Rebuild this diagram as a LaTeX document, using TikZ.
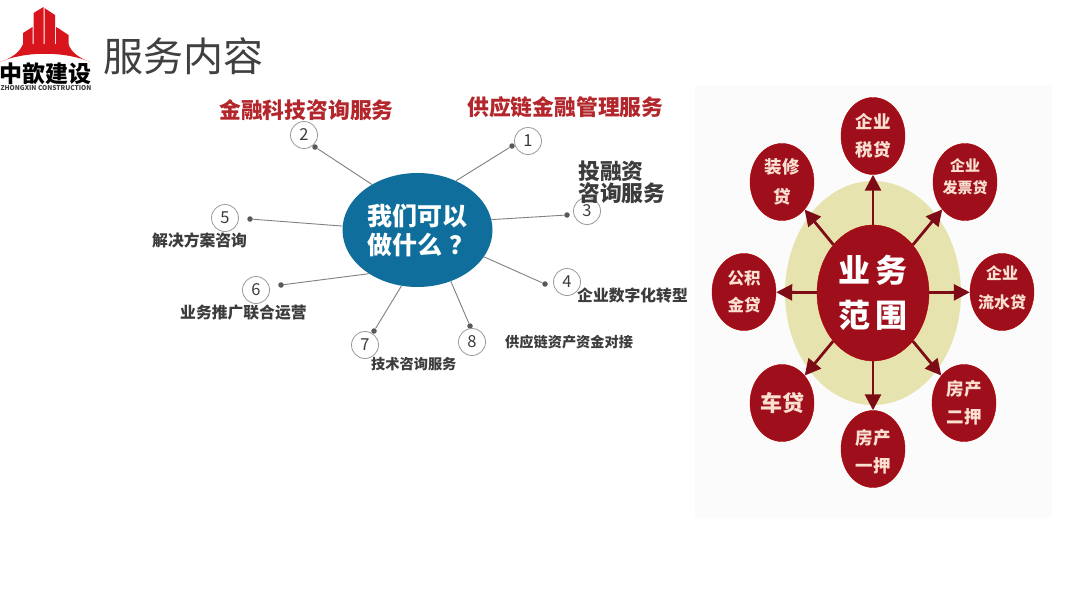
\documentclass[tikz,border=0pt]{standalone}
\usepackage{xcolor}
\usepackage{fontspec}
\setmainfont{Noto Sans CJK SC}
\usetikzlibrary{arrows.meta,shapes.geometric}
\definecolor{logored}{HTML}{D8141C}
\definecolor{loanred}{HTML}{9E0F1B}
\definecolor{titlered}{HTML}{B3262B}
\definecolor{hubblue}{HTML}{0F6E9C}
\definecolor{paleolive}{HTML}{E6E3AE}
\definecolor{loantext}{HTML}{FBE0D2}
\definecolor{graytext}{HTML}{3C3C3C}
\newcommand{\fsz}[1]{\fontsize{#1}{#1}\selectfont}

\begin{document}
\begin{tikzpicture}[
  x=1pt, y=-1pt,
  >={Triangle[length=16pt, width=16pt]},
  redtitle/.style={anchor=west, inner sep=0pt, font=\bfseries\fsz{21.8}, text=titlered},
  itemlabel/.style={anchor=west, inner sep=0pt, font=\bfseries\fsz{15.8}, text=graytext},
  numcircle/.style={circle, draw=black!40, fill=white, line width=0.8pt, minimum size=27pt, inner sep=0pt, font=\fsz{16.5}, text=graytext},
  enddot/.style={circle, fill=black!65, minimum size=5.5pt, inner sep=0pt},
  leader/.style={draw=black!50, line width=0.9pt},
  loan/.style={ellipse, draw=red!70!black, fill=loanred, minimum width=64pt, minimum height=77pt, inner sep=0pt, align=center, text=loantext, font=\bfseries\fsz{17.5}},
  loanlab/.style={align=center, inner sep=0pt, text=loantext, font=\bfseries\fsz{16}},
  flow/.style={->, draw=loanred!80!black, line width=2.8pt}
]
  \useasboundingbox (0,0) rectangle (1080,608);
  \fill[white] (0,0) rectangle (1080,608);

  % logo
  \fill[logored] (23,47) -- (23,33) -- (32.5,27) -- (32.5,47) -- cycle;
  \fill[logored] (33.5,47) -- (33.5,13) -- (43.5,7) -- (43.5,47) -- cycle;
  \fill[logored] (44.5,47) -- (44.5,8) -- (55,15) -- (55,47) -- cycle;
  \fill[logored] (56,47) -- (56,27) -- (58,28) -- (68.5,35) -- (68.5,47) -- cycle;
  \fill[logored] (0,62) .. controls (12,58) and (20,52) .. (23,44) -- (68.5,44) .. controls (71,52) and (79,58) .. (90,62) .. controls (65,51) and (25,51) .. (0,62) -- cycle;
  \node[inner sep=0pt, font=\bfseries\fsz{23}] (logotext) at (45.5,74) {中歆建设};
  \node[inner sep=0pt, font=\bfseries\fsz{6.6}, text=graytext] (logosub) at (46,88.5) {ZHONGXIN CONSTRUCTION};
  \node[anchor=west, inner sep=0pt, font=\fsz{40}, text=black!75] (pagetitle) at (103,56) {服务内容};

  % left
  \node[ellipse, fill=hubblue, minimum width=150pt, minimum height=114pt, inner sep=0pt, align=center, text=white, font=\bfseries\fsz{25}] (hub) at (417.5,230) {我们可以\\[4pt]\makebox[100pt][l]{做什么\hspace{7pt}？}};

  \node[enddot] (dotone) at (512,146) {};
  \node[enddot] (dottwo) at (315,147) {};
  \node[enddot] (dotthree) at (567,215) {};
  \node[enddot] (dotfour) at (545,284) {};
  \node[enddot] (dotfive) at (250,219) {};
  \node[enddot] (dotsix) at (281,285) {};
  \node[enddot] (dotseven) at (374,331) {};
  \node[enddot] (doteight) at (470,326) {};

  \draw[leader] (hub.52) -- (dotone);
  \draw[leader] (hub.135) -- (dottwo);
  \draw[leader] (hub.8) -- (dotthree);
  \draw[leader] (hub.-22) -- (dotfour);
  \draw[leader] (hub.177) -- (dotfive);
  \draw[leader] (hub.222) -- (dotsix);
  \draw[leader] (hub.254) -- (dotseven);
  \draw[leader] (hub.-57) -- (doteight);

  \node[numcircle] (numone) at (528,141) {1};
  \node[numcircle] (numtwo) at (304,135) {2};
  \node[numcircle] (numthree) at (587,211) {3};
  \node[numcircle] (numfour) at (567,282) {4};
  \node[numcircle] (numfive) at (225,218) {5};
  \node[numcircle] (numsix) at (256,290) {6};
  \node[numcircle] (numseven) at (365,345) {7};
  \node[numcircle] (numeight) at (472,342) {8};

  \node[redtitle] (titletwo) at (219,110.5) {金融科技咨询服务};
  \node[redtitle] (titleone) at (467,107) {供应链金融管理服务};
  \node[anchor=north west, inner sep=0pt, align=left, font=\bfseries\fsz{21.8}, text=graytext] (labthree) at (578,161) {投融资\\[0pt]咨询服务};
  \node[itemlabel] (labfour) at (577,295) {企业数字化转型};
  \node[itemlabel] (labfive) at (152,240) {解决方案咨询};
  \node[itemlabel] (labsix) at (180,313) {业务推广联合运营};
  \node[itemlabel, font=\bfseries\fsz{14.2}] (labseven) at (371,364) {技术咨询服务};
  \node[itemlabel, font=\bfseries\fsz{14.2}] (labeight) at (505,342) {供应链资产资金对接};

  % right
  \fill[black!1.5] (695,85) rectangle (1052,518);
  \node[ellipse, fill=paleolive, minimum width=176pt, minimum height=224pt, inner sep=0pt] (halo) at (873,293) {};
  \node[ellipse, draw=red!70!black, fill=loanred, minimum width=112pt, minimum height=136pt, inner sep=0pt, align=center, text=white, font=\bfseries\fsz{32}] (scope) at (873,293) {业\hspace{6pt}务\\[13pt]范\hspace{6pt}围};

  \node[loan] (taxloan) at (873,136) {企业\\[10pt]税贷};
  \node[loan, label={[loanlab, yshift=5pt, font=\bfseries\fsz{15}]center:企业\\[7pt]发票贷}] (invoiceloan) at (965,182) {};
  \node[loan, label={[loanlab, yshift=4pt]center:企业\\[13pt]流水贷}] (flowloan) at (1002,292) {};
  \node[loan] (secondloan) at (964,403) {房产\\[10pt]二押};
  \node[loan, label={[loanlab, yshift=-3pt, font=\bfseries\fsz{17.5}]center:房产\\[10pt]一押}] (firstloan) at (873,449) {};
  \node[loan, font=\bfseries\fsz{22}] (carloan) at (782,403) {车贷};
  \node[loan, font=\bfseries\fsz{16.5}] (fundloan) at (744,292) {公积\\[10pt]金贷};
  \node[loan] (decoloan) at (782,182) {装修\\[12pt]贷};

  \draw[flow] (scope) -- (taxloan);
  \draw[flow] (scope) -- (invoiceloan);
  \draw[flow] (scope) -- (flowloan);
  \draw[flow] (scope) -- (secondloan);
  \draw[flow] (scope) -- (firstloan);
  \draw[flow] (scope) -- (carloan);
  \draw[flow] (scope) -- (fundloan);
  \draw[flow] (scope) -- (decoloan);
\end{tikzpicture}
\end{document}
